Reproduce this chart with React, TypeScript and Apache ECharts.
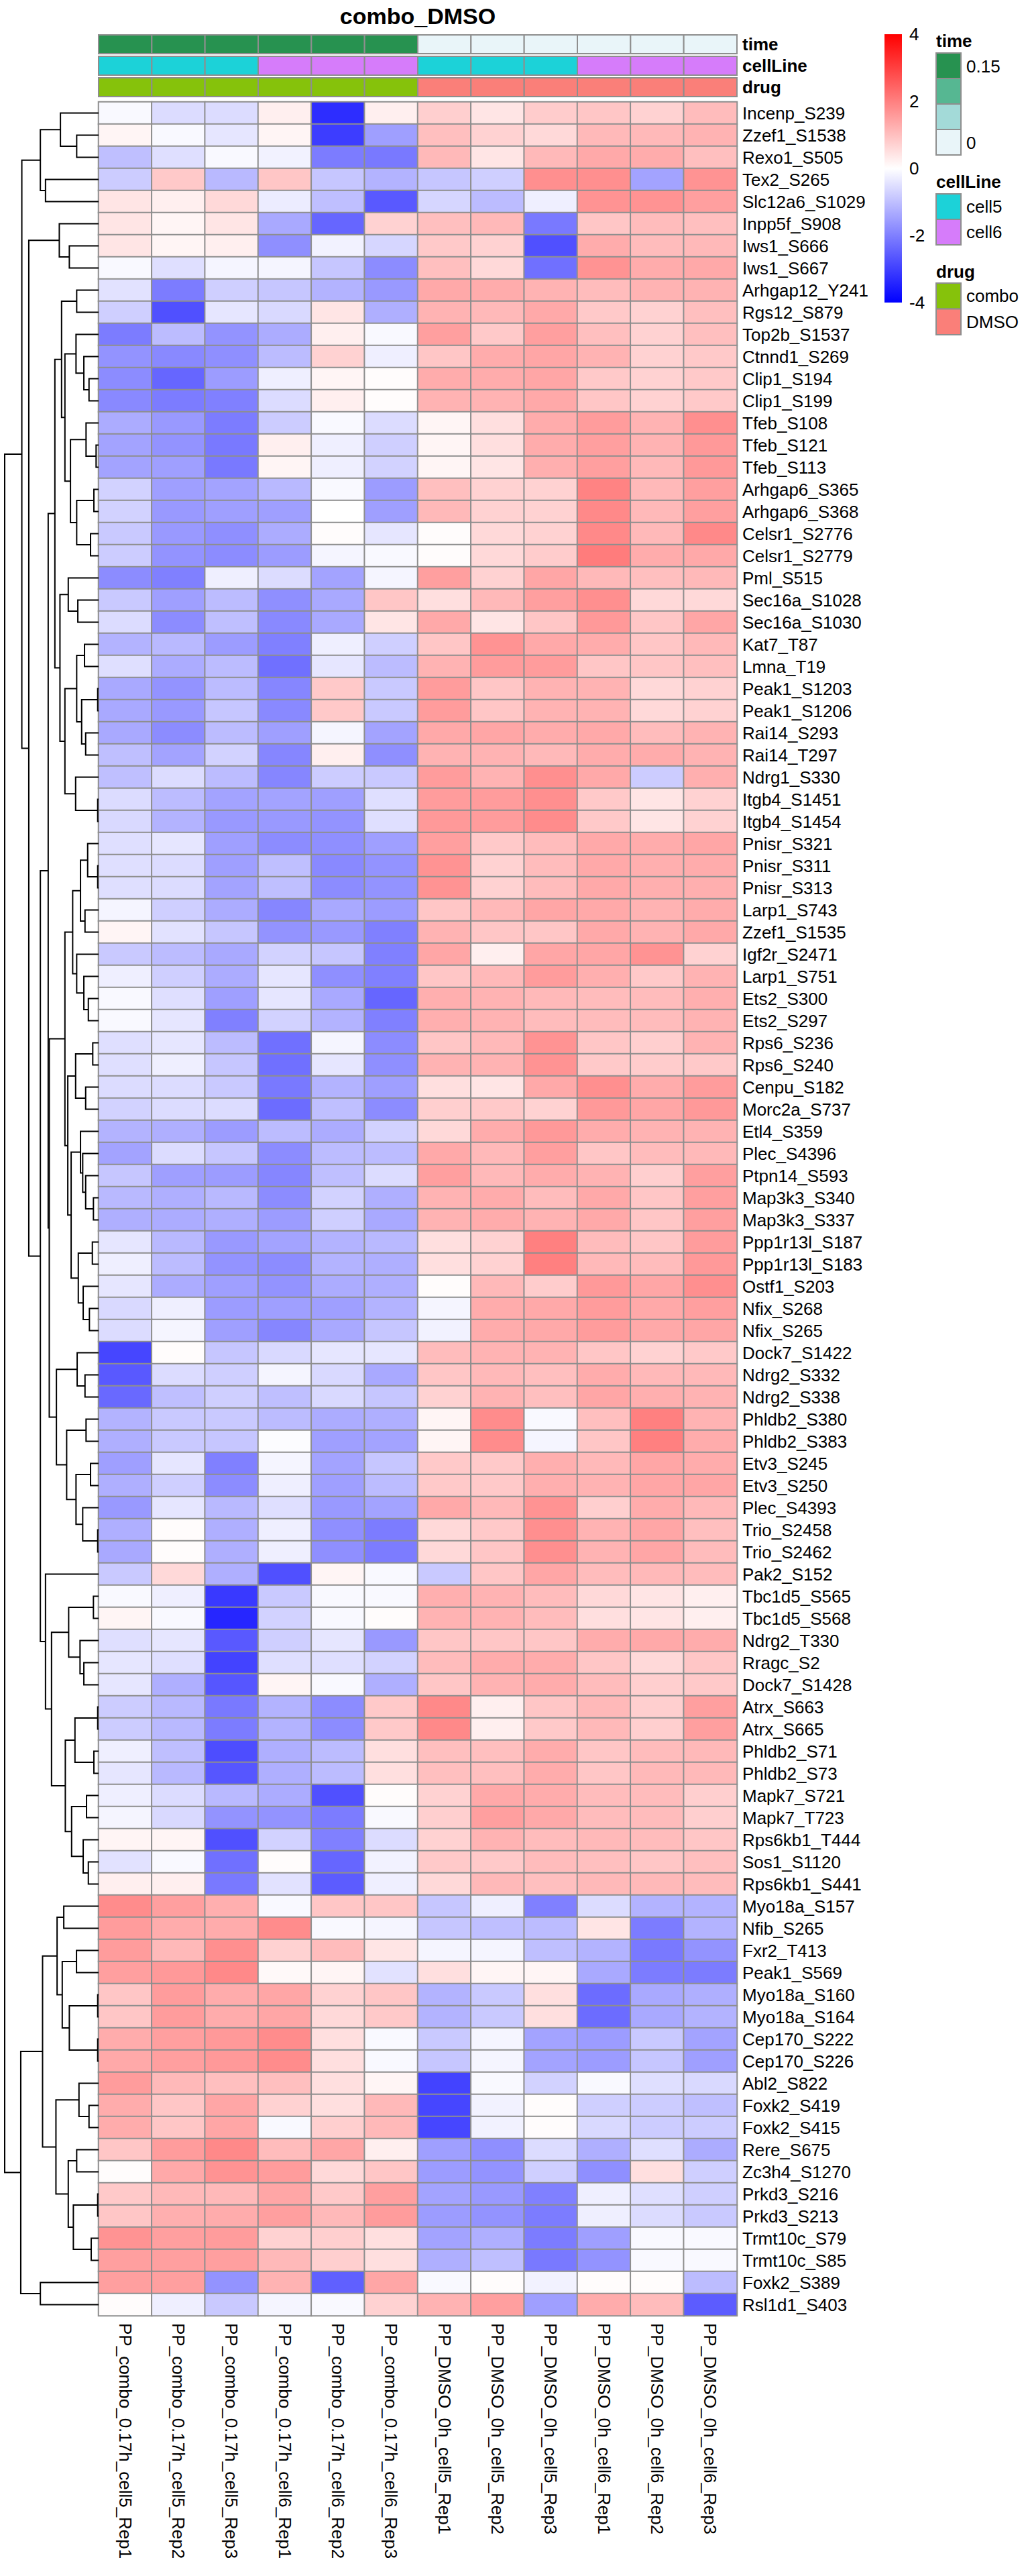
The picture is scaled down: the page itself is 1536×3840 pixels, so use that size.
import React, { useEffect, useRef } from "react";
import * as echarts from "echarts";

const rowLabels = [
  "Incenp_S239","Zzef1_S1538","Rexo1_S505","Tex2_S265","Slc12a6_S1029","Inpp5f_S908","Iws1_S666","Iws1_S667",
  "Arhgap12_Y241","Rgs12_S879","Top2b_S1537","Ctnnd1_S269","Clip1_S194","Clip1_S199","Tfeb_S108","Tfeb_S121",
  "Tfeb_S113","Arhgap6_S365","Arhgap6_S368","Celsr1_S2776","Celsr1_S2779","Pml_S515","Sec16a_S1028","Sec16a_S1030",
  "Kat7_T87","Lmna_T19","Peak1_S1203","Peak1_S1206","Rai14_S293","Rai14_T297","Ndrg1_S330","Itgb4_S1451",
  "Itgb4_S1454","Pnisr_S321","Pnisr_S311","Pnisr_S313","Larp1_S743","Zzef1_S1535","Igf2r_S2471","Larp1_S751",
  "Ets2_S300","Ets2_S297","Rps6_S236","Rps6_S240","Cenpu_S182","Morc2a_S737","Etl4_S359","Plec_S4396",
  "Ptpn14_S593","Map3k3_S340","Map3k3_S337","Ppp1r13l_S187","Ppp1r13l_S183","Ostf1_S203","Nfix_S268","Nfix_S265",
  "Dock7_S1422","Ndrg2_S332","Ndrg2_S338","Phldb2_S380","Phldb2_S383","Etv3_S245","Etv3_S250","Plec_S4393",
  "Trio_S2458","Trio_S2462","Pak2_S152","Tbc1d5_S565","Tbc1d5_S568","Ndrg2_T330","Rragc_S2","Dock7_S1428",
  "Atrx_S663","Atrx_S665","Phldb2_S71","Phldb2_S73","Mapk7_S721","Mapk7_T723","Rps6kb1_T444","Sos1_S1120",
  "Rps6kb1_S441","Myo18a_S157","Nfib_S265","Fxr2_T413","Peak1_S569","Myo18a_S160","Myo18a_S164","Cep170_S222",
  "Cep170_S226","Abl2_S822","Foxk2_S419","Foxk2_S415","Rere_S675","Zc3h4_S1270","Prkd3_S216","Prkd3_S213",
  "Trmt10c_S79","Trmt10c_S85","Foxk2_S389","Rsl1d1_S403"
];

const colLabels = [
  "PP_combo_0.17h_cell5_Rep1","PP_combo_0.17h_cell5_Rep2","PP_combo_0.17h_cell5_Rep3",
  "PP_combo_0.17h_cell6_Rep1","PP_combo_0.17h_cell6_Rep2","PP_combo_0.17h_cell6_Rep3",
  "PP_DMSO_0h_cell5_Rep1","PP_DMSO_0h_cell5_Rep2","PP_DMSO_0h_cell5_Rep3",
  "PP_DMSO_0h_cell6_Rep1","PP_DMSO_0h_cell6_Rep2","PP_DMSO_0h_cell6_Rep3"
];

const heatValues: number[][] = [
  [-0.1,-0.55,-0.55,0.25,-3.3,0.25,0.75,0.4,0.8,0.9,0.7,1.05],
  [0.15,-0.1,-0.4,0.15,-3.05,-1.5,1.0,0.7,0.6,1.1,1.1,1.2],
  [-1.0,-0.5,-0.1,-0.2,-2.05,-2.1,1.1,0.4,1.1,1.35,1.3,1.0],
  [-0.8,0.85,-1.1,0.9,-0.9,-1.2,-0.9,-0.75,1.75,1.75,-1.45,1.7],
  [0.4,0.25,0.6,-0.3,-1.0,-2.6,-0.65,-1.05,-0.25,1.7,1.7,1.5],
  [0.4,0.15,0.4,-1.35,-2.4,0.7,1.0,1.1,-2.1,0.9,1.05,1.0],
  [0.4,0.15,0.25,-1.75,-0.2,-0.65,0.85,0.7,-2.75,1.3,1.05,1.1],
  [-0.1,-0.5,-0.15,-0.15,-0.9,-1.8,1.0,0.6,-2.25,1.7,1.3,1.35],
  [-0.45,-2.05,-0.75,-0.9,-1.2,-1.6,1.35,1.3,1.2,1.05,1.2,1.2],
  [-0.75,-2.75,-0.4,-0.6,0.4,-1.25,1.2,1.1,1.35,0.85,0.7,1.0],
  [-2.05,-1.05,-1.7,-1.3,0.25,-0.1,1.5,0.85,1.5,1.0,0.7,1.0],
  [-1.7,-1.85,-1.75,-1.05,0.7,-0.25,0.9,1.3,1.4,1.2,0.7,0.85],
  [-1.8,-2.4,-1.55,-0.25,0.15,0.05,1.3,1.3,1.4,0.85,0.7,0.85],
  [-1.85,-2.05,-2.0,-0.55,0.25,0.05,1.2,1.2,1.35,0.9,0.7,0.85],
  [-1.3,-1.6,-2.05,-0.8,-0.1,-0.55,0.15,0.5,1.3,1.55,1.2,1.75],
  [-1.45,-1.7,-2.1,0.25,-0.25,-0.75,0.15,0.5,1.3,1.5,1.2,1.6],
  [-1.45,-1.5,-2.1,0.15,-0.25,-0.7,0.15,0.4,1.25,1.5,1.1,1.6],
  [-0.7,-1.5,-1.45,-1.1,-0.1,-1.55,1.0,0.7,0.7,1.95,1.1,1.5],
  [-0.7,-1.6,-1.5,-1.5,0,-1.5,1.1,0.7,0.7,1.85,1.1,1.5],
  [-0.85,-1.6,-1.75,-1.3,0.05,-0.4,0.05,0.6,0.7,1.85,1.1,1.85],
  [-0.8,-1.7,-1.8,-1.55,-0.15,-0.1,0.05,0.6,0.8,2.05,1.3,1.35],
  [-1.8,-2.0,-0.25,-0.55,-1.45,-0.15,1.5,0.7,1.4,1.1,1.0,1.1],
  [-0.85,-1.5,-1.05,-1.75,-1.35,0.9,0.5,1.1,1.5,1.75,0.6,0.6],
  [-0.55,-1.8,-1.0,-1.85,-1.35,0.4,1.35,0.4,0.9,1.6,0.9,1.4],
  [-1.2,-1.1,-1.55,-2.0,-0.25,-0.75,0.9,1.7,1.35,1.3,0.9,1.1],
  [-0.5,-1.3,-1.05,-2.25,-0.4,-1.05,1.2,1.55,1.55,0.9,0.9,1.0],
  [-1.35,-1.7,-1.05,-1.9,0.85,-0.85,1.55,0.9,1.2,1.2,0.6,0.7],
  [-1.35,-1.6,-0.9,-1.85,0.85,-0.85,1.55,0.9,1.2,1.2,0.6,0.7],
  [-1.35,-1.8,-1.05,-1.5,-0.15,-1.45,1.35,1.4,1.3,1.35,1.05,1.2],
  [-1.0,-1.45,-0.7,-1.9,0.25,-1.75,1.2,1.2,1.1,1.3,1.3,1.2],
  [-1.0,-0.55,-1.05,-1.9,-0.8,-0.85,1.55,1.2,1.75,1.35,-0.8,1.25],
  [-0.55,-1.05,-1.45,-1.45,-1.5,-0.5,1.55,1.55,1.75,0.85,0.4,0.7],
  [-0.6,-1.2,-1.6,-1.6,-1.7,-0.5,1.6,1.55,1.8,0.85,0.4,0.7],
  [-0.5,-0.4,-1.5,-1.8,-1.75,-1.5,1.5,0.85,1.05,1.35,1.3,1.4],
  [-0.5,-0.55,-1.5,-1.0,-1.85,-1.7,1.7,0.7,1.05,1.35,1.25,1.3],
  [-0.5,-0.55,-1.45,-1.0,-1.8,-1.7,1.7,0.7,1.05,1.35,1.25,1.25],
  [-0.15,-0.75,-1.3,-1.9,-1.35,-1.55,0.9,1.1,1.4,1.35,1.2,1.3],
  [0.15,-0.45,-0.9,-1.7,-1.6,-2.0,1.2,0.9,0.9,1.35,1.2,1.35],
  [-0.85,-1.05,-1.35,-0.7,-0.9,-2.0,1.4,0.25,1.4,1.4,1.7,0.7],
  [-0.25,-0.75,-1.3,-0.4,-1.75,-2.0,0.9,1.1,1.55,1.25,0.85,1.2],
  [-0.1,-0.5,-1.5,-0.4,-1.35,-2.4,1.25,1.2,1.1,1.05,1.05,1.25],
  [-0.1,-0.4,-2.0,-0.7,-1.2,-2.0,1.25,1.2,1.05,1.05,1.05,1.2],
  [-0.5,-0.4,-1.05,-2.25,-0.15,-1.8,0.9,1.1,1.7,0.9,0.75,1.2],
  [-0.5,-0.25,-0.9,-2.25,-0.4,-1.75,1.2,1.2,1.7,0.85,0.8,0.85],
  [-0.55,-0.55,-0.85,-2.1,-1.2,-1.5,0.5,0.4,1.35,1.75,1.3,1.55],
  [-0.7,-0.55,-0.55,-2.3,-1.0,-1.8,0.75,0.85,0.7,1.6,1.4,1.6],
  [-1.2,-1.25,-1.55,-1.05,-1.3,-0.7,0.6,1.3,1.6,1.3,1.2,1.2],
  [-1.45,-0.55,-0.9,-1.8,-1.05,-1.05,1.35,1.1,1.5,0.9,1.05,1.1],
  [-0.9,-1.5,-1.55,-1.9,-1.0,-0.55,1.5,1.1,1.3,1.2,0.75,1.5],
  [-1.1,-1.25,-1.1,-1.8,-0.7,-1.25,1.2,1.3,1.05,1.35,0.9,1.5],
  [-1.25,-1.3,-1.25,-1.55,-0.75,-1.35,1.2,1.3,1.2,1.35,0.9,1.5],
  [-0.4,-1.1,-1.6,-1.45,-1.2,-1.1,0.5,0.7,2.0,1.05,0.9,1.55],
  [-0.25,-1.05,-1.7,-1.8,-1.2,-1.25,0.5,0.7,2.0,1.1,1.05,1.6],
  [-0.4,-1.3,-1.5,-1.7,-1.3,-1.25,0.05,1.1,0.8,1.6,1.4,1.75],
  [-0.6,-0.25,-1.55,-1.5,-1.5,-1.2,-0.15,1.3,1.35,1.55,1.35,1.5],
  [-0.55,-0.15,-1.5,-1.9,-1.35,-0.9,-0.2,1.3,1.35,1.55,1.35,1.4],
  [-2.9,0.05,-0.9,-0.6,-0.4,-0.4,1.05,1.2,1.2,0.9,0.7,0.85],
  [-2.6,-0.55,-0.75,-0.15,-0.6,-1.35,0.9,1.1,1.0,1.3,1.1,1.1],
  [-2.35,-1.0,-0.75,-1.0,-0.6,-0.9,0.7,1.2,1.0,1.4,1.25,1.2],
  [-1.2,-0.85,-0.85,-1.05,-1.3,-1.25,0.15,1.8,-0.1,1.0,2.0,1.2],
  [-1.25,-0.85,-0.9,-0.05,-1.5,-1.45,0.15,1.8,-0.15,0.9,2.0,1.3],
  [-1.5,-0.4,-2.0,-0.15,-1.45,-0.9,0.85,0.85,1.25,1.1,1.4,1.3],
  [-1.25,-0.75,-1.8,-0.25,-1.5,-1.05,0.85,0.85,1.25,1.2,1.4,1.4],
  [-1.6,-0.4,-1.1,-0.5,-1.6,-1.45,1.35,1.1,1.7,0.75,1.3,1.1],
  [-1.25,0.05,-1.25,-0.25,-1.75,-2.05,0.6,0.85,1.75,1.2,1.4,1.0],
  [-1.35,0.05,-1.25,-0.25,-1.75,-2.05,0.6,0.9,1.75,1.2,1.4,1.05],
  [-0.85,0.6,-1.25,-2.75,0.15,-0.1,-0.85,0.9,1.4,1.05,1.1,1.05],
  [-0.1,-0.25,-3.1,-0.85,-0.1,-0.1,1.25,1.2,1.05,0.6,0.4,0.25],
  [0.15,-0.1,-3.4,-0.7,-0.1,0.05,1.2,1.2,1.05,0.5,0.4,0.25],
  [-0.5,-0.4,-2.6,-0.75,-0.4,-1.6,0.9,0.9,0.9,1.3,1.35,1.3],
  [-0.4,-0.5,-2.95,-0.5,-0.5,-0.7,1.05,1.3,1.3,0.9,0.6,0.9],
  [-0.4,-1.25,-2.65,0.15,-0.1,-1.25,0.9,1.2,1.3,1.05,0.75,0.85],
  [-0.8,-1.1,-2.1,-1.2,-1.8,0.85,1.85,0.25,0.9,1.1,0.75,1.5],
  [-0.8,-1.1,-2.05,-1.2,-1.8,0.85,1.85,0.25,0.85,1.1,0.75,1.5],
  [-0.25,-1.0,-2.8,-1.25,-1.05,0.5,1.0,1.0,1.3,0.9,1.05,1.1],
  [-0.4,-1.1,-2.65,-1.25,-1.05,0.5,1.0,1.0,1.3,0.9,1.1,1.1],
  [-0.25,-0.55,-1.1,-1.3,-2.75,0.05,0.7,1.35,1.3,1.05,1.05,0.75],
  [-0.15,-0.6,-1.7,-1.7,-2.05,-0.1,0.75,1.5,1.35,1.05,1.05,0.75],
  [0.15,0.15,-2.75,-0.7,-2.0,-0.55,0.7,1.2,1.05,1.1,1.05,0.9],
  [-0.45,-0.1,-2.25,0.05,-2.4,-0.2,0.85,0.85,1.05,1.0,0.9,1.0],
  [0.25,0.25,-2.1,-0.45,-2.55,-0.25,0.6,1.1,1.0,1.1,1.1,1.05],
  [1.8,1.5,1.25,-0.1,0.9,0.9,-0.9,-0.25,-2.0,-0.55,-1.2,-1.2],
  [1.55,1.3,1.3,1.8,-0.1,-0.15,-0.9,-1.0,-1.05,0.4,-2.05,-1.2],
  [1.55,1.1,1.75,0.7,1.05,0.4,-0.15,-0.15,-1.0,-1.2,-2.1,-1.7],
  [1.5,1.6,1.85,0.1,0.15,-0.45,0.5,0.15,0.15,-1.35,-2.05,-2.05],
  [0.9,1.55,1.3,1.4,0.7,0.9,-1.2,-0.85,0.5,-2.3,-1.35,-1.25],
  [0.9,1.55,1.3,1.4,0.6,0.85,-1.2,-0.85,0.5,-2.3,-1.35,-1.2],
  [1.3,1.5,1.6,1.8,0.5,-0.1,-0.85,-0.15,-1.45,-1.55,-0.85,-1.45],
  [1.35,1.5,1.6,1.8,0.5,-0.1,-0.9,-0.15,-1.45,-1.55,-0.9,-1.5],
  [1.55,1.1,1.0,1.0,0.5,0.15,-2.95,-0.1,-0.7,-0.1,-0.5,-0.6],
  [1.3,0.9,1.4,0.7,0.5,1.1,-2.9,-0.2,0.05,-0.75,-0.8,-1.0],
  [1.3,0.9,1.4,-0.1,0.75,1.1,-2.9,-0.2,0.05,-0.6,-0.8,-0.8],
  [0.9,1.55,1.85,1.05,1.4,0.25,-1.5,-1.75,-0.55,-1.25,-0.5,-1.3],
  [0.05,1.35,1.7,1.55,0.6,0.9,-1.55,-1.7,-0.75,-1.75,0.5,-0.75],
  [0.85,1.1,1.1,1.4,0.85,1.5,-1.45,-1.6,-2.0,-0.25,-0.5,-0.75],
  [0.9,1.25,1.3,1.5,1.1,1.55,-1.55,-1.7,-2.05,-0.25,-0.55,-0.85],
  [1.7,1.5,1.55,0.7,0.75,0.5,-1.45,-1.25,-2.05,-1.5,-0.1,-0.1],
  [1.5,1.5,1.5,1.1,0.75,0.5,-1.25,-1.0,-2.1,-1.7,-0.1,-0.1],
  [1.5,1.5,-1.7,1.2,-2.5,1.4,-0.1,0.05,-0.2,0.05,0.05,-1.05],
  [0.05,-0.25,-0.85,-0.15,-0.1,0.7,1.2,1.5,-1.5,1.3,1.05,-2.55]
];

// column annotations
const timeValues = [0.17, 0.17, 0.17, 0.17, 0.17, 0.17, 0, 0, 0, 0, 0, 0];
const cellLineValues = ["cell5","cell5","cell5","cell6","cell6","cell6","cell5","cell5","cell5","cell6","cell6","cell6"];
const drugValues = ["combo","combo","combo","combo","combo","combo","DMSO","DMSO","DMSO","DMSO","DMSO","DMSO"];

const timePalette = ["#279250", "#56B792", "#A3DAD8", "#E9F5F9"]; // max -> min
const timeLegendLabels = ["0.15", "0"];
const cellLineCats = ["cell5", "cell6"];
const cellLineColors = ["#1CD2D8", "#D67CFA"];
const drugCats = ["combo", "DMSO"];
const drugColors = ["#86C20B", "#FA7F79"];

const heatPalette = ["#0000FF", "#FFFFFF", "#FF0000"];
const heatMin = -4;
const heatMax = 4;
const heatTickStep = 2;

// row dendrogram: [left, right, height]; leaves are row indices
type Tree = number | [Tree, Tree, number];
const rowTree: Tree = [
  [
    [[0, [1, 2, 3.27], 5.7], [3, 4, 7.93], 8.7],
    [
      [5, [6, 7, 4.37], 5.87],
      [
        [
          [
            [
              [8, 9, 3.27],
              [
                [10, [11, [12, 13, 1.43], 2.2], 3.37],
                [[14, [15, 16, 0.37], 1.87], [[17, 18, 0.7], [19, 20, 1.2], 3.27], 4.2],
                5.03
              ],
              5.53
            ],
            [
              [21, [22, 23, 3.1], 4.53],
              [
                [[24, 25, 2.1], [[26, 27, 0.13], [28, 29, 1.93], 2.53], 3.27],
                [30, [31, 32, 0.13], 3.43],
                5.03
              ],
              5.77
            ],
            6.53
          ],
          [
            [
              [
                [[33, [34, 35, 0.13], 1.63], [36, 37, 2.03], 2.7],
                [38, [39, [40, 41, 1.53], 2.2], 3.27],
                3.87
              ],
              [
                [[42, 43, 0.87], [44, 45, 1.93], 3.43],
                [
                  [46, [47, [48, [49, 50, 0.77], 1.93], 2.37], 2.7],
                  [[51, 52, 0.93], [53, [54, 55, 1.37], 2.3], 3.03],
                  4.1
                ],
                4.6
              ],
              5.03
            ],
            [
              [56, [57, 58, 2.03], 3.2],
              [[59, 60, 1.87], [[61, 62, 1.2], [63, [64, 65, 0.13], 2.37], 3.37], 4.77],
              6.3
            ],
            7.37
          ],
          7.53
        ],
        [
          66,
          [
            [[67, 68, 0.77], [69, [70, 71, 2.2], 2.77], 4.47],
            [
              [[72, 73, 0.13], [74, 75, 0.7], 3.53],
              [[76, 77, 1.8], [78, [79, 80, 1.53], 2.3], 4.03],
              4.97
            ],
            7.03
          ],
          7.93
        ],
        8.7
      ],
      10.43
    ],
    11.47
  ],
  [
    [
      [
        [81, 82, 5.2],
        [[83, 84, 3.3], [[85, 86, 0.13], [87, 88, 0.13], 4.37], 5.43],
        6.2
      ],
      [
        [89, [90, 91, 1.43], 2.93],
        [[92, 93, 3.27], [[94, 95, 0.13], [96, 97, 1.1], 3.77], 4.53],
        6.37
      ],
      8.37
    ],
    [98, 99, 8.7],
    11.63
  ],
  14.03
];

const FONT = "'Liberation Sans', Arial, Helvetica, sans-serif";
const BORDER = "#8E8E8E";

function buildSegments(tree: Tree) {
  const segs: number[][] = [];
  const walk = (n: Tree): { h: number; p: number } => {
    if (typeof n === "number") return { h: 0, p: n };
    const a = walk(n[0]);
    const b = walk(n[1]);
    segs.push([a.h, a.p, n[2], b.p, b.h]);
    return { h: n[2], p: (a.p + b.p) / 2 };
  };
  walk(tree);
  return segs;
}

export default function App() {
  const ref = useRef<HTMLDivElement>(null);
  useEffect(() => {
    document.body.style.margin = "0";
    const chart = echarts.init(ref.current!, null, { renderer: "svg" });
    const nRows = rowLabels.length;
    const nCols = colLabels.length;
    const rootH = (rowTree as any)[2] as number;
    const segs = buildSegments(rowTree);
    const tMax = Math.max(...timeValues);

    const heatData: number[][] = [];
    heatValues.forEach((row, r) => row.forEach((v, c) => heatData.push([c, r, v])));

    const HM = { left: 147, top: 152, width: 952, height: 3300 };
    const annTops = [52, 84, 116];
    const annH = 28;
    const annNames = ["time", "cellLine", "drug"];
    const annColor = [
      (i: number) => echarts.color.lerp(1 - timeValues[i] / tMax, timePalette),
      (i: number) => cellLineColors[cellLineCats.indexOf(cellLineValues[i])],
      (i: number) => drugColors[drugCats.indexOf(drugValues[i])],
    ];

    const grids: any[] = [
      { left: HM.left, top: HM.top, width: HM.width, height: HM.height },
      { left: 7, top: HM.top, width: 140, height: HM.height },
      ...annTops.map((t) => ({ left: HM.left, top: t, width: HM.width, height: annH })),
      { left: 1319, top: 51, width: 26, height: 400 },
    ];

    const hidden = { show: false };
    const xAxes: any[] = [
      {
        type: "category", gridIndex: 0, data: colLabels, position: "bottom",
        axisLine: hidden, axisTick: hidden, splitLine: hidden,
        axisLabel: { rotate: -90, fontSize: 26, fontFamily: FONT, color: "#000", margin: 11, interval: 0 },
      },
      { type: "value", gridIndex: 1, min: 0, max: rootH, inverse: true, show: false },
      ...annTops.map((_, k) => ({ type: "category", gridIndex: 2 + k, data: colLabels, show: false })),
      { type: "category", gridIndex: 5, data: ["bar"], show: false },
    ];
    const yAxes: any[] = [
      {
        type: "category", gridIndex: 0, data: rowLabels, inverse: true, position: "right",
        axisLine: hidden, axisTick: hidden, splitLine: hidden,
        axisLabel: { fontSize: 26, fontFamily: FONT, color: "#000", margin: 8, interval: 0 },
      },
      { type: "value", gridIndex: 1, min: -0.5, max: nRows - 0.5, inverse: true, show: false },
      ...annNames.map((nm, k) => ({
        type: "category", gridIndex: 2 + k, data: [nm], position: "right",
        axisLine: hidden, axisTick: hidden, splitLine: hidden,
        axisLabel: { fontSize: 26, fontWeight: "bold", fontFamily: FONT, color: "#000", margin: 8 },
      })),
      {
        type: "value", gridIndex: 5, min: heatMin, max: heatMax, interval: heatTickStep, position: "right",
        axisLine: hidden, axisTick: hidden, splitLine: hidden,
        axisLabel: { fontSize: 26, fontFamily: FONT, color: "#000", margin: 11 },
      },
    ];

    const series: any[] = [
      {
        type: "heatmap", xAxisIndex: 0, yAxisIndex: 0, data: heatData,
        itemStyle: { borderColor: BORDER, borderWidth: 2 },
        emphasis: { disabled: true },
      },
      {
        type: "custom", xAxisIndex: 1, yAxisIndex: 1, data: segs, silent: true,
        renderItem: (_p: any, api: any) => {
          const p1 = api.coord([api.value(0), api.value(1)]);
          const p2 = api.coord([api.value(2), api.value(1)]);
          const p3 = api.coord([api.value(2), api.value(3)]);
          const p4 = api.coord([api.value(4), api.value(3)]);
          return {
            type: "polyline",
            shape: { points: [p1, p2, p3, p4] },
            style: { stroke: "#000", lineWidth: 2, fill: "none" },
          };
        },
      },
      ...annNames.map((_, k) => ({
        type: "custom", xAxisIndex: 2 + k, yAxisIndex: 2 + k, silent: true,
        data: colLabels.map((_c, i) => [i, 0]),
        renderItem: (params: any, api: any) => {
          const c = api.coord([api.value(0), api.value(1)]);
          const s = api.size([1, 1]);
          return {
            type: "rect",
            shape: { x: c[0] - s[0] / 2, y: c[1] - s[1] / 2, width: s[0], height: s[1] },
            style: { fill: annColor[k](params.dataIndex), stroke: BORDER, lineWidth: 2 },
          };
        },
      })),
      {
        type: "custom", xAxisIndex: 5, yAxisIndex: 5, silent: true,
        data: [[0, heatMin, heatMax]],
        renderItem: (_p: any, api: any) => {
          const top = api.coord([api.value(0), api.value(2)]);
          const bot = api.coord([api.value(0), api.value(1)]);
          const w = api.size([1, 0])[0];
          const stops = heatPalette.slice().reverse().map((col, i, arr) => ({ offset: i / (arr.length - 1), color: col }));
          return {
            type: "rect",
            shape: { x: top[0] - w / 2, y: top[1], width: w, height: bot[1] - top[1] },
            style: { fill: new echarts.graphic.LinearGradient(0, 0, 0, 1, stops) },
          };
        },
      },
    ];

    // legends for annotations
    const LX = 1396, BW = 37, TX = 1441;
    const g: any[] = [];
    const txt = (x: number, y: number, text: string, bold = false, size = 26) => ({
      type: "text", x, y, silent: true,
      style: { text, fill: "#000", fontSize: size, fontWeight: bold ? "bold" : "normal", fontFamily: FONT, align: "left", verticalAlign: "middle" },
    });
    const box = (y: number, h: number, color: string) => ({
      type: "rect", silent: true, shape: { x: LX, y, width: BW, height: h }, style: { fill: color, stroke: BORDER, lineWidth: 2 },
    });
    g.push({
      type: "text", x: HM.left + HM.width / 2, y: 24, silent: true,
      style: { text: "combo_DMSO", fill: "#000", fontSize: 34, fontWeight: "bold", fontFamily: FONT, align: "center", verticalAlign: "middle" },
    });
    g.push(txt(LX, 61, "time", true));
    timePalette.forEach((c, i) => g.push(box(79 + i * 38, 38, c)));
    g.push(txt(TX, 99, timeLegendLabels[0]));
    g.push(txt(TX, 213, timeLegendLabels[1]));
    g.push(txt(LX, 271, "cellLine", true));
    cellLineCats.forEach((c, i) => {
      g.push(box(289 + i * 38, 38, cellLineColors[i]));
      g.push(txt(TX, 308 + i * 38, c));
    });
    g.push(txt(LX, 405, "drug", true));
    drugCats.forEach((c, i) => {
      g.push(box(422 + i * 38.5, 38.5, drugColors[i]));
      g.push(txt(TX, 441 + i * 38.5, c));
    });

    chart.setOption({
      animation: false,
      backgroundColor: "#fff",
      grid: grids,
      xAxis: xAxes,
      yAxis: yAxes,
      visualMap: {
        type: "continuous", show: false, min: heatMin, max: heatMax, seriesIndex: 0, dimension: 2,
        inRange: { color: heatPalette },
      },
      series,
      graphic: g,
    });
    return () => chart.dispose();
  }, []);
  return <div ref={ref} style={{ width: 1536, height: 3840, background: "#fff" }} />;
}
